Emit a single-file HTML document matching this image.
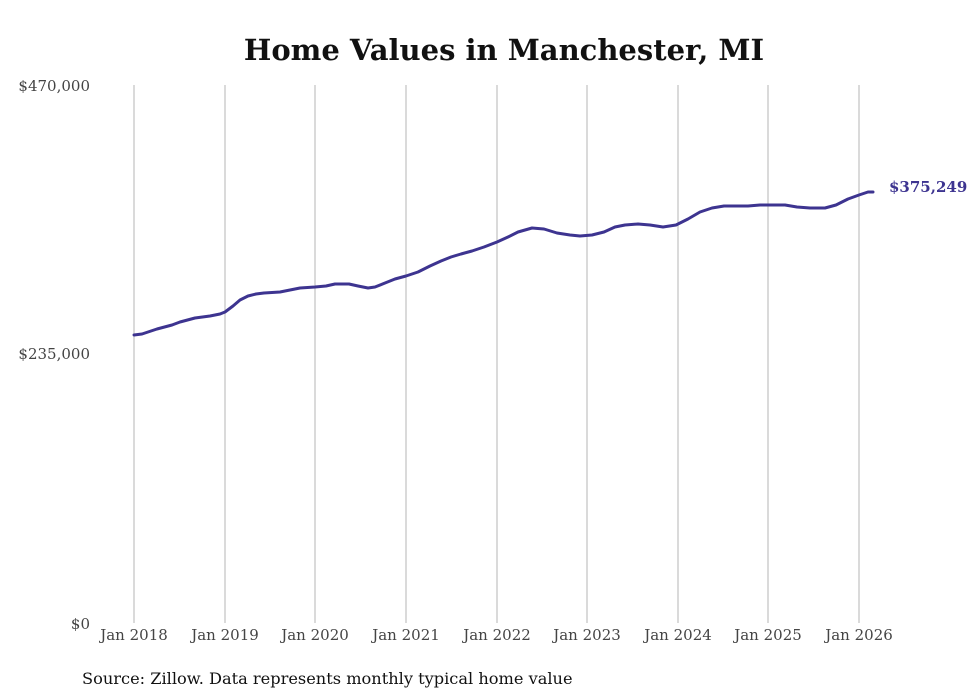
<!DOCTYPE html>
<html><head><meta charset="utf-8"><style>
html,body{margin:0;padding:0;background:#fff;}
svg{display:block;font-family:"DejaVu Serif","Liberation Serif",serif;}
</style></head><body>
<svg width="980" height="699" viewBox="0 0 980 699" xmlns="http://www.w3.org/2000/svg">
<rect width="980" height="699" fill="#fff"/>
<text x="504" y="60" text-anchor="middle" font-size="29" font-weight="bold" fill="#111">Home Values in Manchester, MI</text>
<g stroke="#b5b5b5" stroke-width="1">
<line x1="134" y1="85" x2="134" y2="623"/>
<line x1="225" y1="85" x2="225" y2="623"/>
<line x1="315" y1="85" x2="315" y2="623"/>
<line x1="406" y1="85" x2="406" y2="623"/>
<line x1="497" y1="85" x2="497" y2="623"/>
<line x1="587" y1="85" x2="587" y2="623"/>
<line x1="678" y1="85" x2="678" y2="623"/>
<line x1="768" y1="85" x2="768" y2="623"/>
<line x1="859" y1="85" x2="859" y2="623"/>
</g>
<g font-size="15" fill="#444" text-anchor="end">
<text x="90" y="91">$470,000</text>
<text x="90" y="359">$235,000</text>
<text x="90" y="629">$0</text>
</g>
<g font-size="15" fill="#444" text-anchor="middle">
<text x="134" y="640">Jan 2018</text>
<text x="225" y="640">Jan 2019</text>
<text x="315" y="640">Jan 2020</text>
<text x="406" y="640">Jan 2021</text>
<text x="497" y="640">Jan 2022</text>
<text x="587" y="640">Jan 2023</text>
<text x="678" y="640">Jan 2024</text>
<text x="768" y="640">Jan 2025</text>
<text x="859" y="640">Jan 2026</text>
</g>
<polyline fill="none" stroke="#3d3490" stroke-width="3" stroke-linejoin="round" stroke-linecap="round"
points="134,335 142,334 157,329 172,325 180,322 195,318 210,316 220,314 225,312 233,306 240,300 248,296 256,294 264,293 280,292 290,290 300,288 315,287 326,286 335,284 349,284 358,286 368,288 375,287 385,283 395,279 406,276 418,272 430,266 441,261 451,257 461,254 472,251 484,247 497,242 508,237 518,232 532,228 544,229 557,233 570,235 580,236 592,235 604,232 615,227 625,225 638,224 650,225 663,227 676,225 688,219 700,212 712,208 724,206 736,206 748,206 760,205 772,205 785,205 797,207 810,208 825,208 836,205 848,199 859,195 868,192 873,192"/>
<text x="889" y="192" font-size="15" font-weight="bold" fill="#3d3490">$375,249</text>
<text x="82" y="684" font-size="16.2" fill="#111">Source: Zillow. Data represents monthly typical home value</text>
</svg>
</body></html>
